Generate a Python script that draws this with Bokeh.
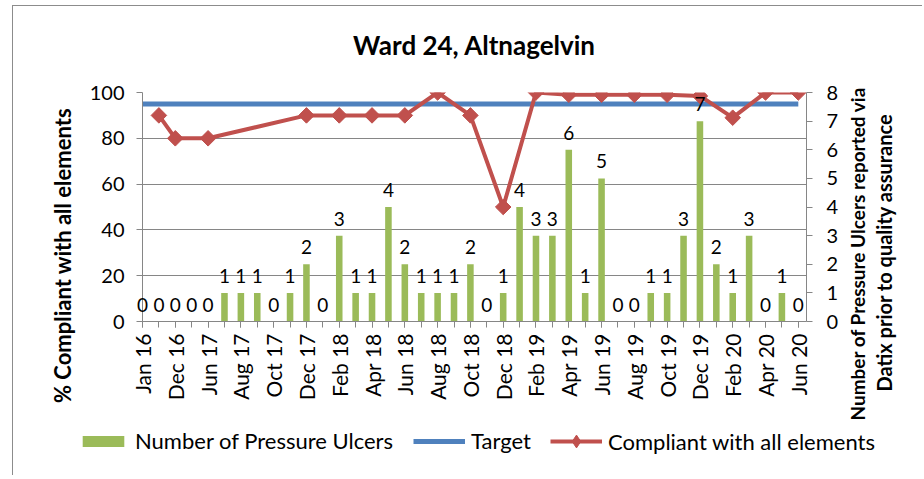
import numpy as np
from bokeh.plotting import figure
from bokeh.models import Range1d, LinearAxis, FixedTicker, Legend, LegendItem, Label, ColumnDataSource
from bokeh.embed import file_html
from bokeh.resources import INLINE
from bokeh.core.properties import value

title_text = "Ward 24, Altnagelvin"
categories = ["Jan 16", "Jun 16", "Dec 16", "Mar 17", "Jun 17", "Jul 17", "Aug 17", "Sep 17",
              "Oct 17", "Nov 17", "Dec 17", "Jan 18", "Feb 18", "Mar 18", "Apr 18", "May 18",
              "Jun 18", "Jul 18", "Aug 18", "Sep 18", "Oct 18", "Nov 18", "Dec 18", "Jan 19",
              "Feb 19", "Mar 19", "Apr 19", "May 19", "Jun 19", "Jul 19", "Aug 19", "Sep 19",
              "Oct 19", "Nov 19", "Dec 19", "Jan 20", "Feb 20", "Mar 20", "Apr 20", "May 20", "Jun 20"]
ulcers = [0, 0, 0, 0, 0, 1, 1, 1, 0, 1, 2, 0, 3, 1, 1, 4, 2, 1, 1, 1, 2, 0, 1, 4, 3, 3, 6, 1, 5,
          0, 0, 1, 1, 3, 7, 2, 1, 3, 0, 1, 0]
target = [95, 95, 95, 95, 95, 95, 95, 95, 95, 95, 95, 95, 95, 95, 95, 95, 95, 95, 95, 95, 95,
          95, 95, 95, 95, 95, 95, 95, 95, 95, 95, 95, 95, 95, 95, 95, 95, 95, 95, 95, 95]
compliance = [None, 90, 80, None, 80, None, None, None, None, None, 90, None, 90, None, 90, None,
              90, None, 100, None, 90, None, 50, None, 100, None, 99, None, 99, None, 99, None,
              99, None, 98.5, None, 89, None, 100, None, 100]
left_ticks = [0, 20, 40, 60, 80, 100]
right_ticks = [0, 1, 2, 3, 4, 5, 6, 7, 8]
left_label = "% Compliant with all elements"
right_label_1 = "Number of Pressure Ulcers reported via"
right_label_2 = "Datix prior to quality assurance"
legend_labels = ["Number of Pressure Ulcers", "Target", "Compliant with all elements"]

GREEN = "#9BBB59"
BLUE = "#4F81BD"
RED = "#C0504D"
GRAY = "#868686"
FONT = "Lato"

# page geometry (pixels)
PAGE_W, PAGE_H = 924, 479
OFF_X, OFF_Y = 13, 6            # chart box origin (margin + border)
FIG_W, FIG_H = 910, 470
B_L, B_R, B_T, B_B = 129, 117, 86, 155
X0, X1 = 0, 40.5
C0, C1 = 0, 8

idx = list(range(len(categories)))
bar_src = ColumnDataSource(dict(x=idx, y=ulcers, t=[str(v) for v in ulcers]))
target_src = ColumnDataSource(dict(x=idx, y=target))
cx = [i for i, v in zip(idx, compliance) if v is not None]
cy = [v for v in compliance if v is not None]
comp_src = ColumnDataSource(dict(x=cx, y=cy))

# ---- main chart
p = figure(width=FIG_W, height=FIG_H, x_range=Range1d(X0, X1), y_range=Range1d(0, 100),
           output_backend="svg", toolbar_location=None,
           min_border_left=B_L, min_border_right=B_R, min_border_top=B_T, min_border_bottom=B_B)
p.styles = {"margin-left": "12px", "margin-top": "5px",
            "border-left": "1px solid #8c8c8c", "border-top": "1px solid #8c8c8c"}
p.outline_line_color = None
p.extra_y_ranges = {"count": Range1d(C0, C1)}

p.xgrid.visible = False
p.ygrid.grid_line_color = GRAY
p.ygrid.grid_line_width = 1
p.ygrid.ticker = FixedTicker(ticks=left_ticks)

xa = p.xaxis[0]
xa.ticker = FixedTicker(ticks=idx[::2], minor_ticks=idx)
xa.major_label_overrides = {i: categories[i] for i in idx[::2]}
xa.major_label_orientation = np.pi / 2
xa.major_label_text_font = FONT
xa.major_label_text_font_size = "21px"
xa.major_label_text_color = "black"
xa.axis_line_color = GRAY
xa.major_tick_line_color = GRAY
xa.minor_tick_line_color = GRAY
xa.major_tick_out = 6
xa.major_tick_in = 0
xa.minor_tick_out = 6
xa.minor_tick_in = 0
xa.major_label_standoff = 6

ya = p.yaxis[0]
ya.ticker = FixedTicker(ticks=left_ticks, minor_ticks=[])
ya.major_label_text_font = FONT
ya.major_label_text_font_size = "20px"
ya.major_label_text_color = "black"
ya.axis_line_color = GRAY
ya.major_tick_line_color = GRAY
ya.major_tick_out = 6
ya.major_tick_in = 0
ya.major_label_standoff = 12

ra = LinearAxis(y_range_name="count", ticker=FixedTicker(ticks=right_ticks, minor_ticks=[]))
ra.major_label_text_font = FONT
ra.major_label_text_font_size = "20px"
ra.major_label_text_color = "black"
ra.axis_line_color = GRAY
ra.major_tick_line_color = GRAY
ra.major_tick_out = 6
ra.major_tick_in = 0
ra.major_label_standoff = 14
p.add_layout(ra, "right")

BAR_STYLE = dict(width=0.4, fill_color=GREEN, line_color=None)
TARGET_STYLE = dict(line_color=BLUE, line_width=5)
COMP_STYLE = dict(line_color=RED, line_width=4)
MARK_STYLE = dict(marker="square", angle=np.pi / 4, size=11, fill_color=RED, line_color=RED)

p.vbar(x="x", top="y", source=bar_src, y_range_name="count", **BAR_STYLE)
p.line(x="x", y="y", source=target_src, **TARGET_STYLE)

# ---- transparent overlay: free texts, legend and the bar value labels (not clipped there)
ov = figure(width=PAGE_W, height=PAGE_H, x_range=Range1d(-100, -99), y_range=Range1d(-100, -99),
            x_axis_location=None, y_axis_location=None, min_border=0,
            output_backend="svg", toolbar_location=None)
ov.styles = {"position": "absolute", "left": "0px", "top": "0px", "z-index": "5"}
ov.grid.visible = False
ov.outline_line_color = None
ov.background_fill_alpha = 0
ov.border_fill_alpha = 0

# ranges of the overlay that coincide with the main chart's frame
fl, fr = OFF_X + B_L, OFF_X + FIG_W - B_R
ft, fb = OFF_Y + B_T, OFF_Y + FIG_H - B_B
sx = (X1 - X0) / (fr - fl)
sy = (C1 - C0) / (fb - ft)
ov.extra_x_ranges = {"cat": Range1d(X0 - fl * sx, X1 + (PAGE_W - fr) * sx)}
ov.extra_y_ranges = {"cnt": Range1d(C0 - (PAGE_H - fb) * sy, C1 + ft * sy)}
ov.text(x="x", y="y", text="t", source=bar_src, x_range_name="cat", y_range_name="cnt",
        text_align="center", text_baseline="alphabetic", y_offset=-17,
        text_font=value(FONT), text_font_size="19px", text_color="black")

# compliance line drawn on top of the value labels
p.line(x="x", y="y", source=comp_src, **COMP_STYLE)
p.scatter(x="x", y="y", source=comp_src, **MARK_STYLE)

kb = ov.vbar(x="x", top="y", source=bar_src, **BAR_STYLE)
kt = ov.line(x="x", y="y", source=target_src, **TARGET_STYLE)
kl = ov.line(x="x", y="y", source=comp_src, **COMP_STYLE)
km = ov.scatter(x="x", y="y", source=comp_src, marker="diamond", size=13,
                fill_color=RED, line_color=RED)

LEG = dict(orientation="horizontal", label_text_font=FONT, label_text_font_size="22px",
           label_text_color="black", glyph_width=52, label_standoff=6, spacing=20,
           padding=0, margin=0, border_line_alpha=0, background_fill_alpha=0)
ov.add_layout(Legend(items=[LegendItem(label=legend_labels[0], renderers=[kb]),
                            LegendItem(label=legend_labels[1], renderers=[kt])],
                     location=(77, 25), glyph_height=14, **LEG))
ov.add_layout(Legend(items=[LegendItem(label=legend_labels[2], renderers=[kl, km])],
                     location=(550, 22), glyph_height=32, **LEG))


def free_text(txt, x, y, size, angle=0.0):
    ov.add_layout(Label(x=x, y=y, x_units="screen", y_units="screen", text=txt, angle=angle,
                        text_align="center", text_baseline="middle", text_font=FONT,
                        text_font_size=size, text_font_style="bold", text_color="black"))


free_text(title_text, 474, 435, "26px")
free_text(left_label, 62, 224, "22px", np.pi / 2)
free_text(right_label_1, 857, 226, "19px", np.pi / 2)
free_text(right_label_2, 883, 227, "20px", np.pi / 2)

open("out.html", "w").write(file_html([p, ov], INLINE))
